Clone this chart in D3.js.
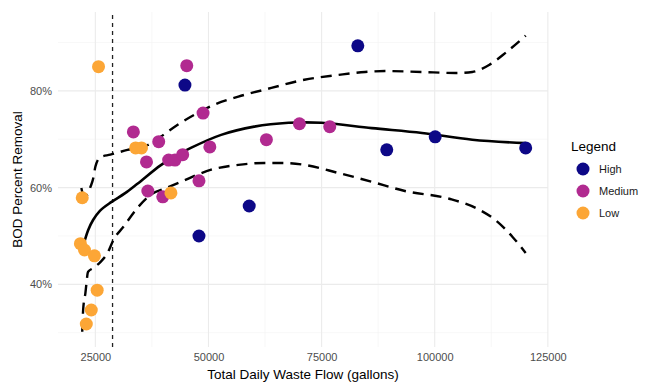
<!DOCTYPE html>
<html>
<head>
<meta charset="utf-8">
<script src="https://cdn.jsdelivr.net/npm/d3@7"></script>
<style>
  body { margin: 0; background: #fff; }
  svg { font-family: "Liberation Sans", Arial, sans-serif; }
</style>
</head>
<body>
<div id="chart"></div>
<script>
// categories / legend
const categories = ["High", "Medium", "Low"];
const catColors = ["#0D0887", "#B12A90", "#FCA636"];

// observed points, by group
const highFlow = [44800, 47900, 59000, 83000, 89400, 100100, 120100];
const highBod = [81.2, 50.0, 56.2, 89.3, 67.8, 70.5, 68.2];
const mediumFlow = [33400, 39000, 36300, 41200, 42600, 44300, 48800, 50300, 36600, 39900, 47900, 45200, 62800, 70100, 76800];
const mediumBod = [71.5, 69.5, 65.3, 65.7, 65.7, 66.8, 75.4, 68.4, 59.3, 58.1, 61.4, 85.2, 69.9, 73.2, 72.6];
const lowFlow = [25700, 22100, 21700, 22600, 24800, 25400, 24100, 23000, 33900, 35200, 41700];
const lowBod = [85.0, 57.9, 48.4, 47.1, 45.9, 38.8, 34.7, 31.8, 68.2, 68.2, 58.9];

// fitted curve and confidence bounds
const fitFlow = [22100, 22600, 23400, 24500, 26000, 28500, 31500, 34300, 39400, 42300, 46100, 52800, 60100, 67700, 75000, 86100, 97200, 108300, 120100];
const fitBod = [47.7, 48.9, 51.2, 53.3, 55.2, 57.0, 58.8, 60.8, 64.6, 66.3, 68.2, 70.9, 72.6, 73.4, 73.4, 72.3, 71.3, 69.9, 69.2];
const upperFlow = [21900, 22300, 23200, 23900, 24600, 25000, 26100, 28300, 32100, 36600, 39400, 43200, 46800, 51200, 56600, 63900, 71200, 78800, 84600, 89000, 97200, 104600, 108300, 112100, 115700, 120100];
const upperBod = [59.9, 58.7, 58.5, 60.1, 62.2, 64.3, 66.3, 66.8, 67.8, 68.8, 70.5, 73.0, 75.0, 77.1, 78.8, 80.6, 82.3, 83.3, 83.9, 84.1, 83.9, 83.7, 83.9, 85.4, 87.9, 91.4];
const lowerFlow = [22100, 22300, 22800, 23400, 24600, 26100, 27700, 29000, 31200, 34300, 37200, 40600, 43900, 50600, 56600, 62300, 66100, 71200, 78800, 86100, 93400, 103200, 109900, 113400, 117200, 120100];
const lowerBod = [30.2, 34.7, 38.2, 42.6, 43.4, 44.6, 46.5, 49.2, 51.9, 55.8, 58.5, 59.9, 61.2, 63.7, 64.7, 65.1, 65.1, 64.7, 63.0, 61.2, 59.3, 57.7, 55.4, 53.3, 49.8, 46.5];

// reference flow (vertical dashed line)
const refFlow = 28800;

// ticks
const xMajor = [25000, 50000, 75000, 100000, 125000];
const xMinor = [37500, 62500, 87500, 112500];
const yMajor = [40, 60, 80];
const yMinor = [30, 50, 70, 90];

const width = 647, height = 383;
const svg = d3.select("#chart").append("svg")
  .attr("width", width).attr("height", height);

const x = d3.scaleLinear().domain([16745, 125033]).range([58, 548]);
const y = d3.scaleLinear().domain([27.05, 96.3]).range([347, 12]);

// grid
const grid = svg.append("g");
grid.selectAll(".xmin").data(xMinor).join("line")
  .attr("x1", d => x(d)).attr("x2", d => x(d))
  .attr("y1", y.range()[0]).attr("y2", y.range()[1])
  .attr("stroke", "#f2f2f2").attr("stroke-width", 0.6);
grid.selectAll(".ymin").data(yMinor).join("line")
  .attr("x1", x.range()[0]).attr("x2", x.range()[1])
  .attr("y1", d => y(d)).attr("y2", d => y(d))
  .attr("stroke", "#f2f2f2").attr("stroke-width", 0.6);
grid.selectAll(".xmaj").data(xMajor).join("line")
  .attr("x1", d => x(d)).attr("x2", d => x(d))
  .attr("y1", y.range()[0]).attr("y2", y.range()[1])
  .attr("stroke", "#ebebeb").attr("stroke-width", 1.1);
grid.selectAll(".ymaj").data(yMajor).join("line")
  .attr("x1", x.range()[0]).attr("x2", x.range()[1])
  .attr("y1", d => y(d)).attr("y2", d => y(d))
  .attr("stroke", "#ebebeb").attr("stroke-width", 1.1);

// axes (text only, like theme_minimal)
const xAxis = svg.append("g")
  .attr("transform", `translate(0, ${y.range()[0] + 3})`)
  .call(d3.axisBottom(x).tickValues(xMajor).tickFormat(d3.format("d")).tickSize(0));
xAxis.select(".domain").remove();
xAxis.selectAll("text").attr("fill", "#4d4d4d").attr("font-size", 11)
  .attr("font-family", "Liberation Sans, Arial, sans-serif");

const yAxis = svg.append("g")
  .attr("transform", `translate(${x.range()[0] - 3}, 0)`)
  .call(d3.axisLeft(y).tickValues(yMajor).tickFormat(d => d + "%").tickSize(0));
yAxis.select(".domain").remove();
yAxis.selectAll("text").attr("fill", "#4d4d4d").attr("font-size", 11)
  .attr("font-family", "Liberation Sans, Arial, sans-serif");

// axis titles
svg.append("text")
  .attr("x", (x.range()[0] + x.range()[1]) / 2).attr("y", 379)
  .attr("text-anchor", "middle").attr("font-size", 13.5).attr("fill", "#000")
  .text("Total Daily Waste Flow (gallons)");
svg.append("text")
  .attr("transform", `translate(22, ${(y.range()[0] + y.range()[1]) / 2}) rotate(-90)`)
  .attr("text-anchor", "middle").attr("font-size", 13.5).attr("fill", "#000")
  .text("BOD Percent Removal");

// reference line
svg.append("line")
  .attr("x1", x(refFlow)).attr("x2", x(refFlow))
  .attr("y1", y.range()[0]).attr("y2", y.range()[1])
  .attr("stroke", "#222").attr("stroke-width", 1.3)
  .attr("stroke-dasharray", "4,4");

// curves
const line = d3.line().x(d => x(d[0])).y(d => y(d[1])).curve(d3.curveMonotoneX);
const smooth = d3.line().x(d => x(d[0])).y(d => y(d[1])).curve(d3.curveCatmullRom.alpha(0.5));
const zip = (a, b) => a.map((v, i) => [v, b[i]]);

svg.append("path").datum(zip(upperFlow, upperBod))
  .attr("d", line).attr("fill", "none").attr("stroke", "#000")
  .attr("stroke-width", 2.4).attr("stroke-dasharray", "11,7");
svg.append("path").datum(zip(lowerFlow, lowerBod))
  .attr("d", line).attr("fill", "none").attr("stroke", "#000")
  .attr("stroke-width", 2.4).attr("stroke-dasharray", "11,7");
svg.append("path").datum(zip(fitFlow, fitBod))
  .attr("d", smooth).attr("fill", "none").attr("stroke", "#000")
  .attr("stroke-width", 2.6);

// points
const color = d3.scaleOrdinal().domain(categories).range(catColors);
const groups = [
  ["High", highFlow, highBod],
  ["Medium", mediumFlow, mediumBod],
  ["Low", lowFlow, lowBod]
];
groups.forEach(([cat, fx, fy]) => {
  svg.append("g").selectAll("circle").data(zip(fx, fy)).join("circle")
    .attr("cx", d => x(d[0])).attr("cy", d => y(d[1])).attr("r", 6.5)
    .attr("fill", color(cat));
});

// legend
const legend = svg.append("g").attr("transform", "translate(571, 0)");
legend.append("text").attr("x", 0).attr("y", 151)
  .attr("font-size", 13.5).attr("fill", "#000").text("Legend");
const items = legend.selectAll(".item").data(categories).join("g")
  .attr("transform", (d, i) => `translate(0, ${169 + i * 22})`);
items.append("circle").attr("cx", 12).attr("cy", 0).attr("r", 6.5)
  .attr("fill", d => color(d));
items.append("text").attr("x", 28).attr("y", 4)
  .attr("font-size", 11).attr("fill", "#1a1a1a").text(d => d);
</script>
</body>
</html>
